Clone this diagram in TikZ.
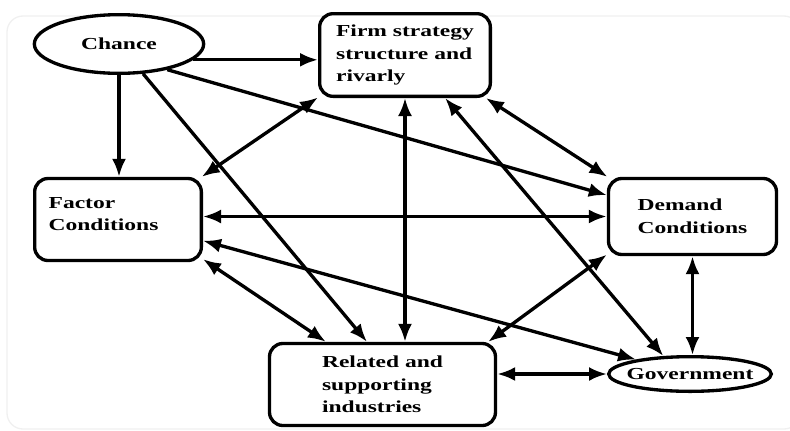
\documentclass[tikz,border=0pt]{standalone}
\usepackage{fontspec}
\setmainfont{Liberation Serif}[FakeStretch=1.4]
\usetikzlibrary{arrows.meta,shapes.geometric}

\begin{document}
\begin{tikzpicture}[
  x=0.75pt, y=-0.75pt,
  font=\fontsize{12.6pt}{17pt}\selectfont\bfseries,
  line width=2.5pt,
  box/.style={draw, fill=white, rounded corners=10pt, align=left, inner sep=3pt},
  oval/.style={draw, fill=white, ellipse, inner sep=0pt},
  link/.style={-{Latex[length=13.5pt,width=10.5pt]}},
  twoway/.style={{Latex[length=13.5pt,width=10.5pt]}-{Latex[length=13.5pt,width=10.5pt]}},
]
\useasboundingbox (0,0) rectangle (790,430);
\draw[gray!12, line width=1pt, rounded corners=12pt] (7,16) rectangle (800,429);

% the six determinants
\node[oval, minimum width=127pt, minimum height=44pt] (chance) at (119,44) {Chance};
\node[box, minimum width=128pt, minimum height=62pt] (firm) at (405,55) {Firm strategy\\structure and\\rivarly};
\node[box, minimum width=125pt, minimum height=61.5pt, text width=104pt] (factor) at (118,219.5) {Factor\\Conditions\\[-8.5pt]\mbox{}};
\node[box, minimum width=126pt, minimum height=57pt] (demand) at (692.5,216.5) {Demand\\Conditions};
\node[box, minimum width=169.5pt, minimum height=61.5pt] (related) at (382.5,384.5) {Related and\\supporting\\industries};
\node[oval, minimum width=122pt, minimum height=26pt] (gov) at (690,374) {\makebox[0pt]{Government}};

% chance acts one way
\draw[link] (chance.-12) -- (chance.-12 -| firm.west);
\draw[link] (chance.south) -- (chance.south |- factor.north);
\draw[link] (chance.-51) -- (related.110);
\draw[link] (chance.-28) -- (demand.166);

% the diamond, both ways
\draw[twoway] (firm.-154) -- (factor.27);
\draw[twoway] (firm.-28) -- (demand.155);
\draw[twoway] (firm.south) -- (firm.south |- related.north);
\draw[twoway] (firm.-47) -- (gov.146);
\draw[twoway] (demand.west -| factor.east) -- (demand.west);
\draw[twoway] (factor.-14) -- (gov.165);
\draw[twoway] (factor.-25) -- (related.143);
\draw[twoway] (demand.-156) -- (related.22);
\draw[twoway] (demand.south) -- (demand.south |- gov.north);
\draw[twoway] (related.east |- gov.west) -- (gov.west);
\end{tikzpicture}
\end{document}
